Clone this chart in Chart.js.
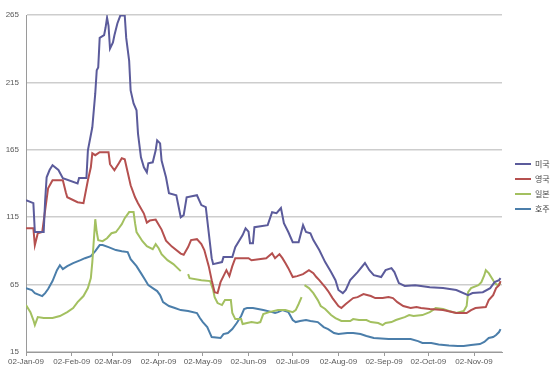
<!DOCTYPE html>
<html>
<head>
<meta charset="utf-8">
<script src="https://cdn.jsdelivr.net/npm/chart.js@4"></script>
<style>
  body { margin: 0; background: #fff; }
  #wrap { width: 550px; height: 370px; }
</style>
</head>
<body>
<div id="wrap"><canvas id="chart"></canvas></div>
<script>
// days counted from 02-Jan-09
const tickDays = [0, 31, 59, 90, 120, 151, 181, 212, 243, 273, 304];
const tickLabels = ["02-Jan-09", "02-Feb-09", "02-Mar-09", "02-Apr-09", "02-May-09", "02-Jun-09",
    "02-Jul-09", "02-Aug-09", "02-Sep-09", "02-Oct-09", "02-Nov-09"];

const seriesNames = ["미국", "영국", "일본", "호주"];
const seriesColors = ["#5b5b9b", "#b5504f", "#a3c060", "#4b7eaa"];

const usDays = [0, 5, 6, 12, 13, 14, 16, 18, 22, 25, 35, 36, 41, 42, 45, 47, 48, 49, 50, 53, 54, 55, 56, 57, 59, 60, 62, 64, 67, 68,
    70, 71, 73, 75, 76, 78, 80, 82, 83, 86, 88, 89, 91, 92, 95, 97, 102, 105, 107, 109, 116, 119, 122, 126, 127, 133, 134, 140, 142, 147,
    149, 151, 152, 154, 155, 164, 167, 170, 173, 175, 178, 181, 185, 188, 190, 193, 195, 199, 203, 207, 210, 212, 215, 217, 220, 225, 230, 233, 236, 241,
    244, 248, 250, 253, 257, 264, 268, 274, 283, 292, 300, 303, 310, 315, 318, 321, 322];
const usValues = [127.6, 125.4, 104, 104, 127.6, 144.6, 150, 153.5, 150, 144, 140, 144, 144, 164.6, 181.7, 206.8, 224, 226, 248, 250, 255.7, 263, 257, 240, 244.6, 250, 258.7, 264.6, 264.6, 248,
    231, 209, 199.4, 194.3, 177, 159.4, 152, 148.3, 155, 155.7, 164.6, 172, 169.8, 157, 144.6, 132.8, 131.3, 115, 116.5, 129.8, 131.3, 124, 122.4, 84.6, 80.2, 81.7, 85.4, 85.4, 92.8, 101.7,
    106.8, 104.3, 95.7, 95.7, 107.6, 109.1, 118.7, 118, 121.8, 110.6, 104, 96.5, 96.5, 109.1, 104, 103.1, 98, 90.6, 81.7, 74.3, 68.3, 61, 58.7, 61, 68.3, 74.3, 81, 75.7, 72, 70.6,
    75.7, 77.2, 74.3, 66.1, 64, 64.6, 64, 63.1, 62.4, 61, 57.2, 58.7, 59.4, 62.4, 66.8, 68.3, 69.8];

const ukDays = [0, 5, 6, 8, 11, 13, 15, 18, 25, 27, 28, 35, 39, 42, 44, 45, 47, 50, 56, 57, 60, 63, 65, 67, 69, 71, 74, 76, 80, 82,
    84, 88, 92, 95, 99, 105, 107, 110, 112, 116, 119, 121, 124, 126, 128, 130, 132, 134, 136, 138, 140, 142, 151, 153, 163, 167, 169, 172, 174, 176,
    178, 181, 184, 188, 192, 195, 197, 199, 203, 205, 208, 212, 214, 217, 222, 225, 229, 234, 237, 242, 246, 249, 252, 256, 261, 265, 268, 274, 283, 292,
    299, 302, 305, 312, 314, 317, 319, 321, 322];
const ukValues = [106.8, 106.8, 94.3, 103.1, 104, 120.2, 136.5, 142.4, 142.4, 133.5, 129.8, 126.1, 125.4, 142.4, 152, 162.4, 161, 163.2, 163.2, 154.3, 149.8, 155, 158.7, 158, 148.3, 138.7, 129.8, 125.4, 117.7, 111,
    112.5, 113.2, 105.8, 97.6, 93.2, 88, 87.2, 92.8, 98, 98.7, 95, 90.6, 78.7, 68.3, 59.4, 58.7, 66.8, 71.3, 75.7, 71.3, 78.7, 84.6, 84.6, 83.1, 84.6, 88.3, 84.6, 87.6, 84.6, 81,
    77.2, 70.6, 71.3, 72.8, 75.7, 73.5, 70.6, 68.3, 63.1, 60.2, 55, 49.1, 47.6, 50.6, 55, 55.7, 58, 56.5, 55, 55, 55.7, 55, 52, 49.1, 47.6, 48.3, 47.6, 46.9, 46.1, 43.9,
    43.9, 46.1, 47.6, 48.3, 53.5, 57.2, 62.4, 64.6, 67.6];

// null = no quote that day (line breaks)
const jpDays = [0, 3, 5, 6, 8, 12, 18, 23, 28, 32, 35, 39, 42, 44, 45, 47, 48, 49, 52, 55, 58, 61, 63, 65, 67, 70, 73, 74, 75, 79,
    82, 86, 88, 90, 92, 96, 100, 105, 107, 110, 111, 119, 125, 127, 128, 130, 133, 135, 139, 140, 142, 146, 147, 150, 153, 157, 159, 161, 165, 171,
    176, 181, 183, 185, 187, 188, 189, 192, 195, 198, 200, 203, 207, 210, 214, 220, 222, 226, 231, 234, 239, 242, 244, 248, 251, 257, 260, 263, 269, 274,
    278, 283, 287, 292, 297, 299, 300, 302, 307, 309, 311, 312, 314, 317, 318, 320, 322];
const jpValues = [49.8, 44.6, 38.7, 35, 40.9, 40.2, 40.2, 41.7, 44.6, 47.6, 52, 56.5, 62.4, 69.8, 81.7, 113.5, 104, 98, 97.2, 99.4, 103.1, 104, 106.8, 109.8, 114.3, 118.8, 118.8, 110.6, 104, 97.2,
    93.5, 91.3, 95, 92, 87.6, 83.1, 80.2, 75, null, 72.8, 69.8, 68.3, 67.6, 61, 55.7, 51.3, 49.8, 53.5, 53.5, 43.9, 39.4, 39.4, 35.7, 36.5, 37.2, 36.5, 37.2, 43.1, 44.6, 46.1,
    46.1, 44.6, 46.1, 50.6, 55.7, null, 64.6, 62.4, 58.7, 53.5, 49.1, 46.9, 42.4, 40.2, 38, 38, 39.4, 38.7, 38.7, 37.2, 36.5, 35, 36.5, 37.2, 38.7, 40.9, 42.4, 41.7, 42.4, 44.6,
    47.6, 46.9, 45.4, 43.9, 45.4, 49.1, 59.4, 62.4, 64.6, 66.8, 72, 75.7, 73.5, 68.3, 66.1, 64.6, 66.1];

const auDays = [0, 4, 6, 11, 13, 15, 18, 21, 23, 25, 28, 32, 37, 40, 44, 47, 50, 52, 56, 61, 65, 69, 71, 75, 78, 81, 83, 86, 89, 91,
    93, 97, 101, 105, 110, 116, 118, 120, 123, 126, 132, 134, 137, 140, 143, 146, 148, 150, 154, 161, 167, 169, 171, 174, 178, 181, 183, 186, 190, 193,
    198, 202, 205, 209, 212, 218, 222, 227, 231, 236, 246, 254, 261, 266, 269, 275, 280, 287, 293, 297, 302, 308, 311, 314, 317, 319, 321, 322];
const auValues = [62.4, 60.9, 58.7, 56.5, 58.7, 61.7, 67.6, 75.7, 79.4, 76.5, 78.7, 80.9, 83.1, 84.6, 86.1, 89.8, 94.3, 94.3, 92.8, 90.6, 89.8, 89.1, 83.9, 78.7, 73.5, 68.3, 64.6, 62.4, 60.2, 57.2,
    52, 49.1, 47.6, 46.1, 45.4, 43.9, 40.2, 37.2, 33.5, 26.1, 25.4, 28.3, 29.1, 32, 36.5, 41.7, 46.9, 47.6, 47.6, 46.1, 44.6, 43.9, 44.6, 46.1, 44.6, 38.7, 37.2, 38, 38.7, 38,
    37.2, 33.5, 32, 29.1, 28.3, 29.1, 29.1, 28.3, 26.9, 25.4, 24.6, 24.6, 24.6, 23.1, 21.7, 21.7, 20.6, 19.8, 19.4, 19.4, 20.2, 20.9, 22.4, 25.4, 26.1, 27.6, 29.8, 32];

const yTicks = [15, 65, 115, 165, 215, 265];

function pts(days, vals) {
    return days.map((d, i) => ({ x: d, y: vals[i] }));
}

const allDays = [usDays, ukDays, jpDays, auDays];
const allValues = [usValues, ukValues, jpValues, auValues];

const datasets = seriesNames.map((name, i) => ({
    label: name,
    data: pts(allDays[i], allValues[i]),
    borderColor: seriesColors[i],
    backgroundColor: seriesColors[i],
    borderWidth: 2,
    pointRadius: 0,
    tension: 0,
    spanGaps: false
}));

// legend on the right, drawn by hand so it sits where the original has it
const sideLegend = {
    id: "sideLegend",
    afterDraw(c) {
        const ctx = c.ctx;
        ctx.save();
        ctx.font = "8px 'Noto Sans CJK KR', sans-serif";
        ctx.textBaseline = "middle";
        c.data.datasets.forEach((ds, i) => {
            const y = 164 + i * 15;
            ctx.strokeStyle = ds.borderColor;
            ctx.lineWidth = 2;
            ctx.beginPath();
            ctx.moveTo(515, y);
            ctx.lineTo(531, y);
            ctx.stroke();
            ctx.fillStyle = "#404040";
            ctx.fillText(ds.label, 535, y);
        });
        ctx.restore();
    }
};

new Chart(document.getElementById("chart"), {
    type: "line",
    data: { datasets },
    options: {
        responsive: true,
        maintainAspectRatio: false,
        animation: false,
        layout: { padding: { top: 15, right: 48, left: 0, bottom: 0 } },
        plugins: {
            legend: { display: false },
            tooltip: { enabled: false }
        },
        scales: {
            x: {
                type: "linear",
                min: 0,
                max: 323,
                afterBuildTicks: s => { s.ticks = tickDays.map(v => ({ value: v })); },
                afterFit: s => { s.height = 18; },
                ticks: {
                    autoSkip: false,
                    maxRotation: 0,
                    padding: 1,
                    color: "#595959",
                    font: { family: "'Liberation Sans', Arial, sans-serif", size: 8 },
                    callback: v => tickLabels[tickDays.indexOf(v)]
                },
                grid: { drawOnChartArea: false, tickLength: 4, color: "#9a9a9a" },
                border: { color: "#9a9a9a" }
            },
            y: {
                min: 15,
                max: 265,
                afterBuildTicks: s => { s.ticks = yTicks.map(v => ({ value: v })); },
                afterFit: s => { s.width = 26; },
                ticks: {
                    padding: 7,
                    color: "#595959",
                    font: { family: "'Liberation Sans', Arial, sans-serif", size: 8 }
                },
                grid: { color: "#cdcdcd", lineWidth: 1.5, drawTicks: false },
                border: { color: "#9a9a9a" }
            }
        }
    },
    plugins: [sideLegend]
});
</script>
</body>
</html>
